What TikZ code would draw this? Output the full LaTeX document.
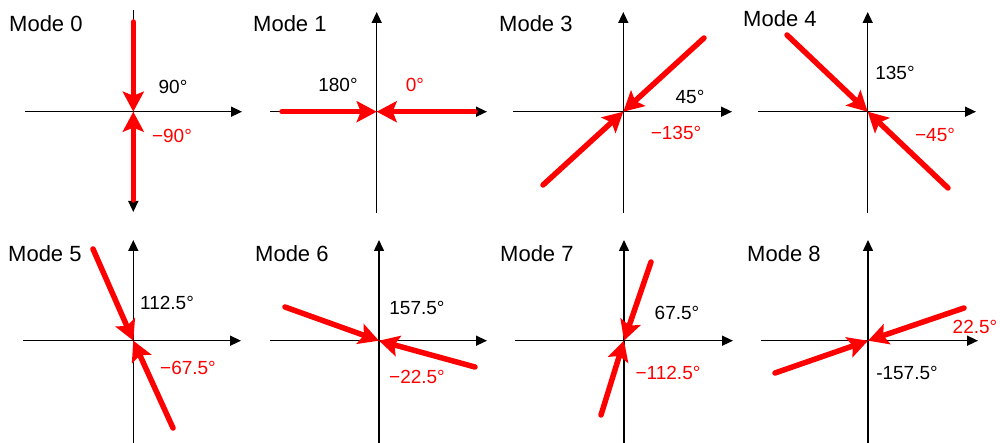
\documentclass[tikz,border=0pt]{standalone}
\usepackage{fontspec}
\setmainfont{Liberation Sans}
\usetikzlibrary{arrows.meta}
\begin{document}
\begin{tikzpicture}[x=1pt,y=-1pt,
  axis/.style={line width=1.5pt,-{Triangle[length=11pt,width=10pt]}},
  plainaxis/.style={line width=1.5pt},
  ray/.style={red,line width=5.5pt,line cap=round,-{Stealth[length=20pt,width=21pt,inset=4pt]}},
  title/.style={font=\fontsize{22}{26}\selectfont,inner sep=0pt,anchor=base west},
  lab/.style={font=\fontsize{19}{22}\selectfont,inner sep=0pt},
  redlab/.style={lab,text=red}]
\useasboundingbox (0,0) rectangle (1000,443);

% ---------- Mode 0
\coordinate (o0) at (133.3,111.7);
\coordinate (h0a) at (25,111.7);   \coordinate (h0b) at (242,111.7);
\coordinate (v0a) at (133.3,10);   \coordinate (v0b) at (133.3,212);
\coordinate (r0a) at (133.3,22);   \coordinate (r0b) at (133.3,200);
\draw[axis] (h0a) -- (h0b);
\draw[axis] (v0a) -- (v0b);
\draw[ray] (r0a) -- (o0);
\draw[ray] (r0b) -- (o0);
\node[title] (t0) at (9,32) {Mode 0};
\node[lab] (l0a) at (173,87) {90°};
\node[redlab] (l0b) at (172,136) {−90°};

% ---------- Mode 1
\coordinate (o1) at (376.7,111.7);
\coordinate (h1a) at (270,111.7);  \coordinate (h1b) at (487,111.7);
\coordinate (v1a) at (376.7,213);  \coordinate (v1b) at (376.7,12);
\coordinate (r1a) at (282,111.7);  \coordinate (r1b) at (475,111.7);
\draw[axis] (h1a) -- (h1b);
\draw[axis] (v1a) -- (v1b);
\draw[ray] (r1a) -- (o1);
\draw[ray] (r1b) -- (o1);
\node[title] (t1) at (253,32) {Mode 1};
\node[lab] (l1a) at (338,85) {180°};
\node[redlab] (l1b) at (415,85) {0°};

% ---------- Mode 3
\coordinate (o3) at (623.3,111.7);
\coordinate (h3a) at (513,111.7);  \coordinate (h3b) at (732,111.7);
\coordinate (v3a) at (623.3,213);  \coordinate (v3b) at (623.3,12);
\coordinate (r3a) at (704,38);     \coordinate (r3b) at (543,185);
\draw[axis] (h3a) -- (h3b);
\draw[axis] (v3a) -- (v3b);
\draw[ray] (r3a) -- (o3);
\draw[ray] (r3b) -- (o3);
\node[title] (t3) at (499,32) {Mode 3};
\node[lab] (l3a) at (690,97) {45°};
\node[redlab] (l3b) at (676,133) {−135°};

% ---------- Mode 4
\coordinate (o4) at (867.7,111.7);
\coordinate (h4a) at (758,111.7);  \coordinate (h4b) at (976,111.7);
\coordinate (v4a) at (867.7,213);  \coordinate (v4b) at (867.7,12);
\coordinate (r4a) at (787,35);     \coordinate (r4b) at (948,188);
\draw[axis] (h4a) -- (h4b);
\draw[axis] (v4a) -- (v4b);
\draw[ray] (r4a) -- (o4);
\draw[ray] (r4b) -- (o4);
\node[title] (t4) at (743,27) {Mode 4};
\node[lab] (l4a) at (895,73) {135°};
\node[redlab] (l4b) at (935,135) {−45°};

% ---------- Mode 5
\coordinate (o5) at (133.3,340.7);
\coordinate (h5a) at (23,340.7);   \coordinate (h5b) at (241,340.7);
\coordinate (v5a) at (133.3,443);  \coordinate (v5b) at (133.3,240);
\coordinate (r5a) at (93,249);     \coordinate (r5b) at (173,428);
\draw[axis] (h5a) -- (h5b);
\draw[axis] (v5a) -- (v5b);
\draw[ray] (r5a) -- (o5);
\draw[ray] (r5b) -- (o5);
\node[title] (t5) at (8,262) {Mode 5};
\node[lab] (l5a) at (167,303) {112.5°};
\node[redlab] (l5b) at (188,368) {−67.5°};

% ---------- Mode 6
\coordinate (o6) at (379,340.7);
\coordinate (h6a) at (270,340.7);  \coordinate (h6b) at (487,340.7);
\coordinate (v6a) at (379,443);    \coordinate (v6b) at (379,240);
\coordinate (r6a) at (285,307);    \coordinate (r6b) at (475,367);
\draw[axis] (h6a) -- (h6b);
\draw[axis] (v6a) -- (v6b);
\draw[ray] (r6a) -- (o6);
\draw[ray] (r6b) -- (o6);
\node[title] (t6) at (255,262) {Mode 6};
\node[lab] (l6a) at (417,308) {157.5°};
\node[redlab] (l6b) at (417,377) {−22.5°};

% ---------- Mode 7
\coordinate (o7) at (624,340.7);
\coordinate (h7a) at (515,340.7);  \coordinate (h7b) at (733,340.7);
\coordinate (v7a) at (624,443);    \coordinate (v7b) at (624,240);
\coordinate (r7a) at (651,262);    \coordinate (r7b) at (601,415);
\draw[axis] (h7a) -- (h7b);
\draw[axis] (v7a) -- (v7b);
\draw[ray] (r7a) -- (o7);
\draw[ray] (r7b) -- (o7);
\node[title] (t7) at (500,262) {Mode 7};
\node[lab] (l7a) at (677,313) {67.5°};
\node[redlab] (l7b) at (668,373) {−112.5°};

% ---------- Mode 8
\coordinate (o8) at (868,340.7);
\coordinate (h8a) at (761,340.7);  \coordinate (h8b) at (978,340.7);
\coordinate (v8a) at (868,443);    \coordinate (v8b) at (868,240);
\coordinate (r8a) at (964,308);    \coordinate (r8b) at (775,373);
\draw[axis] (h8a) -- (h8b);
\draw[axis] (v8a) -- (v8b);
\draw[ray] (r8a) -- (o8);
\draw[ray] (r8b) -- (o8);
\node[title] (t8) at (747,262) {Mode 8};
\node[redlab] (l8a) at (975,327) {22.5°};
\node[lab] (l8b) at (907,373) {-157.5°};
\end{tikzpicture}
\end{document}
